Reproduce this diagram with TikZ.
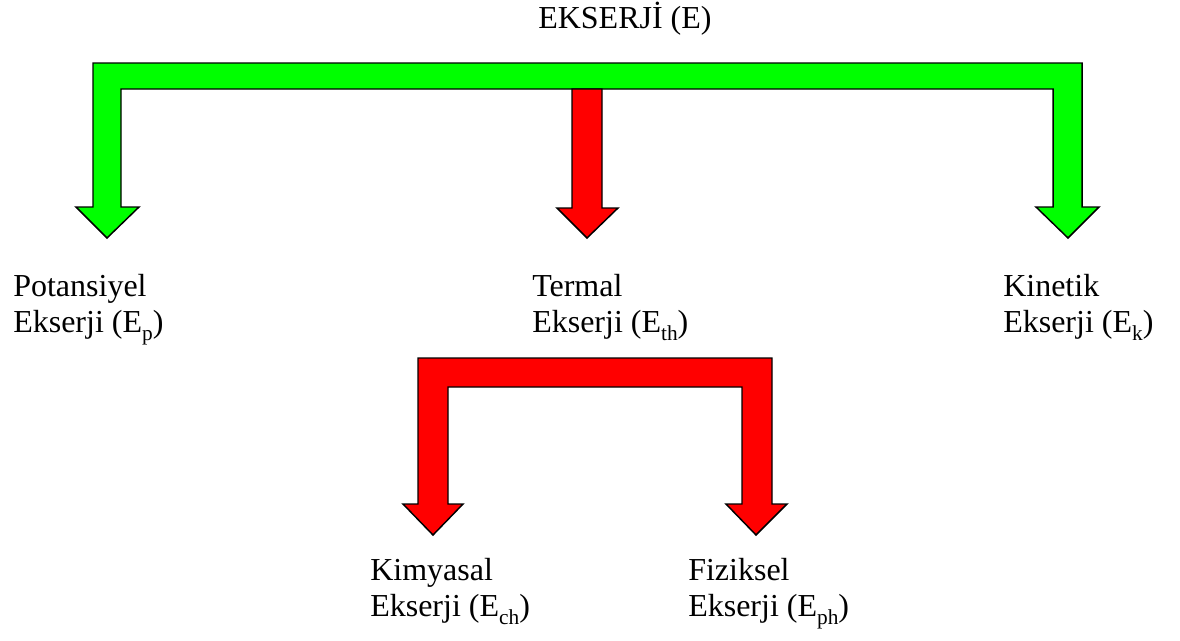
\documentclass[tikz,border=0pt]{standalone}
\usepackage{fontspec}
\setmainfont{Liberation Serif}
\newcommand{\lowsub}[1]{\raisebox{-0.28em}{\fontsize{16pt}{16pt}\selectfont #1}}
\begin{document}
\begin{tikzpicture}[x=0.75pt,y=-0.75pt,
  lbl/.style={anchor=base west,align=left,inner sep=0pt,font=\fontsize{24pt}{27pt}\selectfont},
  garrow/.style={draw=black,line width=1.1pt,fill=green,line join=miter},
  rarrow/.style={draw=black,line width=1.1pt,fill=red,line join=miter}]
\useasboundingbox[fill=white] (0,0) rectangle (1180,640);
% title
\node[lbl] (E) at (538,28) {EKSERJİ (E)};
% green bracket
\draw[garrow] (107,238) -- (139,207) -- (121,207) -- (121,89) -- (1053,89) -- (1053,207)
  -- (1036,207) -- (1068,238) -- (1099,207) -- (1082,207) -- (1082,63) -- (93,63)
  -- (93,207) -- (76,207) -- cycle;
% central red arrow
\draw[rarrow] (572,89) -- (602,89) -- (602,208) -- (618,208) -- (587,238) -- (557,208)
  -- (572,208) -- cycle;
% lower red bracket
\draw[rarrow] (433,535) -- (463,504) -- (448,504) -- (448,387) -- (742,387) -- (742,504)
  -- (726,504) -- (756,535) -- (787,504) -- (772,504) -- (772,358) -- (418,358)
  -- (418,504) -- (403,504) -- cycle;
% labels (base anchor = baseline of last line)
\node[lbl] (Ep) at (13,332) {Potansiyel\\Ekserji (E\lowsub{p})};
\node[lbl] (Eth) at (532,332) {Termal\\Ekserji (E\lowsub{th})};
\node[lbl] (Ek) at (1003,332) {Kinetik\\Ekserji (E\lowsub{k})};
\node[lbl] (Ech) at (370,616) {Kimyasal\\Ekserji (E\lowsub{ch})};
\node[lbl] (Eph) at (688,616) {Fiziksel\\Ekserji (E\lowsub{ph})};
\end{tikzpicture}
\end{document}
